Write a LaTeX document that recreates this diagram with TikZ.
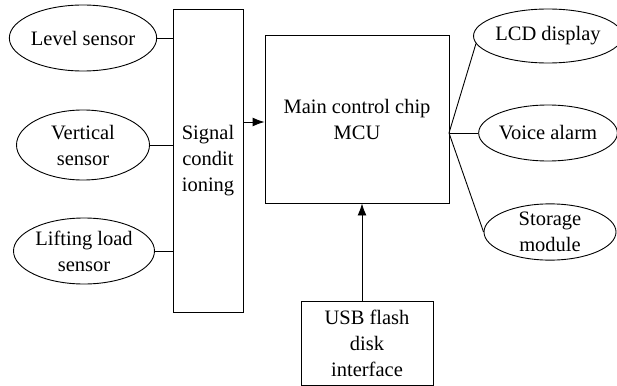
\documentclass[tikz,border=0pt]{standalone}
\usepackage{fontspec}
\setmainfont{Liberation Serif}
\newfontfamily\diagfont{Liberation Serif}
\usetikzlibrary{shapes.geometric,arrows.meta}
\tikzset{
  unit/.style={draw=black, line width=0.9pt, ellipse, inner sep=0pt, align=center},
  block/.style={draw=black, line width=0.9pt, rectangle, inner sep=0pt, align=center},
  link/.style={line width=0.9pt},
  arr/.style={line width=0.9pt, -{Latex[length=12pt,width=9pt]}}
}
\begin{document}
\begin{tikzpicture}[x=1pt, y=-1pt, every node/.style={font=\diagfont\fontsize{20.5}{26}\selectfont}]
\useasboundingbox (0,0) rectangle (617,385);
% input sensors
\node[unit, minimum width=133, minimum height=66] (level) at (83,38) {Level sensor};
\node[unit, minimum width=133, minimum height=70] (vert) at (83,145) {Vertical\\sensor};
\node[unit, minimum width=141, minimum height=66] (lift) at (84,251) {Lifting load\\sensor};
% processing blocks
\node[block, minimum width=70, minimum height=303] (sig) at (208,160.5) {Signal\\condit\\ioning};
\node[block, minimum width=184, minimum height=168] (main) at (357,119) {Main control chip\\MCU};
\node[block, minimum width=132, minimum height=84] (usb) at (367,343) {USB flash\\disk\\interface};
% outputs
\node[unit, minimum width=136, minimum height=54] (lcd) at (548,36) {LCD display};
\node[unit, minimum width=136, minimum height=56] (voice) at (548,133) {Voice alarm};
\node[unit, minimum width=132, minimum height=54] (store) at (550,232) {Storage\\module};
% connectors
\draw[link] (level.east) -- (level.east -| sig.west);
\draw[link] (vert.east) -- (vert.east -| sig.west);
\draw[link] (lift.east) -- (lift.east -| sig.west);
\coordinate (sigout) at (243,122);
\draw[arr] (sigout) -- (sigout -| main.west);
\coordinate (mainout) at (449,133);
\draw[link] (mainout) -- (lcd.186);
\draw[link] (mainout) -- (voice.west);
\draw[link] (mainout) -- (store.west);
\coordinate (usbin) at (362,301);
\draw[arr] (usbin) -- (usbin |- main.south);
\end{tikzpicture}
\end{document}
